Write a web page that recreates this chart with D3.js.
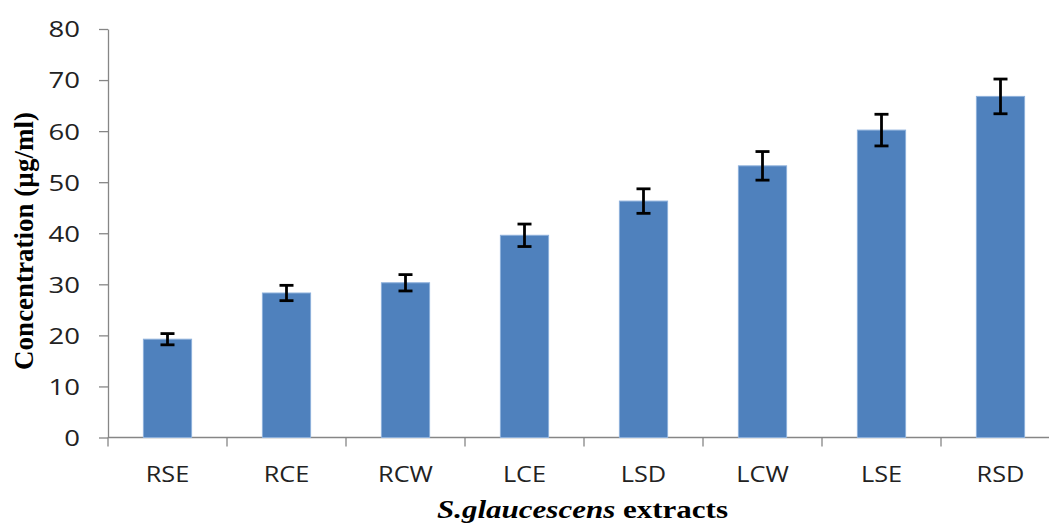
<!DOCTYPE html>
<html><head><meta charset="utf-8">
<script src="https://cdn.jsdelivr.net/npm/d3@7"></script>
<style>body{margin:0;background:#fff}</style>
</head><body>
<svg id="c" width="1049" height="524"></svg>
<script>
const categories = ["RSE","RCE","RCW","LCE","LSD","LCW","LSE","RSD"];
const values = [19.25, 28.3, 30.3, 39.6, 46.3, 53.2, 60.2, 66.8];
const errors = [1.1, 1.5, 1.6, 2.2, 2.4, 2.8, 3.1, 3.4];
const yTicks = [0,10,20,30,40,50,60,70,80];

const svg = d3.select("#c");
const x0 = 108, xEnd = 1060, yTop = 29, yBot = 437.5;
const x = d3.scaleBand().domain(categories).range([x0, xEnd]).paddingInner(0.595).paddingOuter(0.2975);
const y = d3.scaleLinear().domain([0,80]).range([yBot, yTop]);
const axisColor = "#868686";
const tickFont = "'Open Sans', 'DejaVu Sans', sans-serif";

// y axis
const ya = svg.append("g").attr("transform", `translate(${x0},0)`)
  .call(d3.axisLeft(y).tickValues(yTicks).tickSize(9).tickPadding(19).tickSizeOuter(0));
ya.select(".domain").attr("stroke", axisColor).attr("stroke-width", 1.3);
ya.selectAll(".tick line").attr("stroke", axisColor).attr("stroke-width", 1.3);
ya.selectAll(".tick text")
  .attr("x", 0).attr("dy", "0.36em")
  .attr("transform", "translate(-28,0) scale(1.25,1)")
  .attr("font-family", tickFont)
  .attr("font-size", 22).attr("fill", "#222");

// x axis
const step = x.step();
const xg = svg.append("g").attr("transform", `translate(0,${yBot})`);
xg.append("line").attr("x1", x0).attr("x2", xEnd).attr("y1", 0).attr("y2", 0)
  .attr("stroke", axisColor).attr("stroke-width", 1.3);
xg.selectAll("line.tk").data(d3.range(categories.length + 1)).join("line")
  .attr("class","tk")
  .attr("x1", i => x0 + i*step).attr("x2", i => x0 + i*step)
  .attr("y1", 0).attr("y2", 9).attr("stroke", axisColor).attr("stroke-width", 1.3);
xg.selectAll("text").data(categories).join("text")
  .attr("transform", d => `translate(${x(d) + x.bandwidth()/2},44) scale(1.15,1)`)
  .attr("text-anchor", "middle")
  .attr("font-family", tickFont)
  .attr("font-size", 22).attr("fill", "#222").text(d => d);

// bars
svg.append("g").selectAll("rect").data(categories).join("rect")
  .attr("x", d => x(d)).attr("width", x.bandwidth())
  .attr("y", (d,i) => y(values[i])).attr("height", (d,i) => yBot - y(values[i]))
  .attr("fill", "#4F81BD").attr("stroke", "#8DB0DB").attr("stroke-width", 1);

// error bars
const eg = svg.append("g").attr("stroke", "#000").attr("stroke-width", 2.8);
categories.forEach((d,i) => {
  const cx = x(d) + x.bandwidth()/2;
  const hi = y(values[i] + errors[i]), lo = y(values[i] - errors[i]);
  eg.append("line").attr("x1", cx).attr("x2", cx).attr("y1", hi).attr("y2", lo);
  eg.append("line").attr("x1", cx-7).attr("x2", cx+7).attr("y1", hi).attr("y2", hi);
  eg.append("line").attr("x1", cx-7).attr("x2", cx+7).attr("y1", lo).attr("y2", lo);
});

// y title
svg.append("text")
  .attr("transform", `translate(33,241) rotate(-90)`)
  .attr("text-anchor", "middle")
  .attr("font-family", "'Liberation Serif', 'Times New Roman', serif")
  .attr("font-weight", "bold").attr("font-size", 27).attr("fill", "#000")
  .text("Concentration (µg/ml)");

// x title
const xt = svg.append("text").attr("x", 437).attr("y", 518)
  .attr("textLength", 291).attr("lengthAdjust", "spacingAndGlyphs")
  .attr("font-family", "'Liberation Serif', 'Times New Roman', serif")
  .attr("font-weight", "bold").attr("font-size", 26).attr("fill", "#000");
xt.append("tspan").attr("font-style", "italic").text("S.glaucescens");
xt.append("tspan").text(" extracts");
</script>
</body></html>
